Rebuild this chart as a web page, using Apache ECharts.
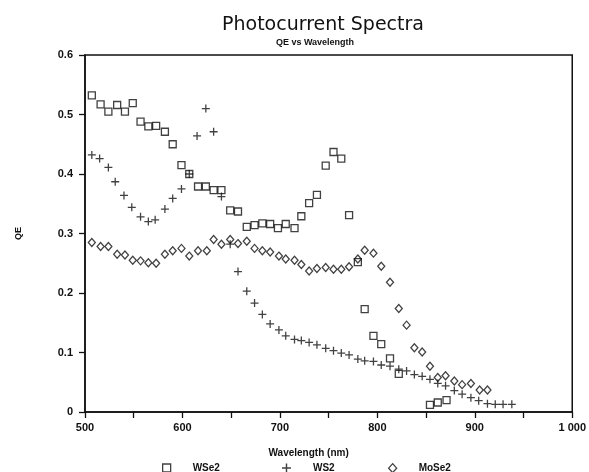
<!DOCTYPE html>
<html>
<head>
<meta charset="utf-8">
<script src="https://cdn.jsdelivr.net/npm/echarts@6/dist/echarts.min.js"></script>
<style>
  html, body { margin: 0; padding: 0; background: #fff; }
  #chart { width: 589px; height: 472px; }
</style>
</head>
<body>
<div id="chart"></div>
<script>
// Wavelength (nm) and quantum efficiency for each material
const wse2Nm = [507, 516, 524, 533, 541, 549, 557, 565, 573, 582, 590, 599, 607, 616, 624, 632, 640, 649, 657, 666, 674, 682, 690, 698, 706, 715, 722, 730, 738, 747, 755, 763, 771, 780, 787, 796, 804, 813, 822, 854, 862, 871];
const wse2Qe = [0.532, 0.517, 0.505, 0.516, 0.505, 0.519, 0.488, 0.480, 0.481, 0.471, 0.450, 0.415, 0.400, 0.379, 0.379, 0.373, 0.373, 0.339, 0.337, 0.311, 0.314, 0.317, 0.316, 0.309, 0.316, 0.309, 0.329, 0.351, 0.365, 0.414, 0.437, 0.426, 0.331, 0.252, 0.173, 0.128, 0.114, 0.090, 0.064, 0.012, 0.016, 0.020];

const ws2Nm = [507, 515, 524, 531, 540, 548, 557, 565, 572, 582, 590, 599, 607, 615, 624, 632, 640, 649, 657, 666, 674, 682, 690, 699, 706, 715, 722, 730, 738, 747, 755, 763, 771, 780, 787, 796, 804, 813, 822, 830, 838, 846, 854, 862, 870, 879, 887, 896, 904, 913, 921, 929, 938];
const ws2Qe = [0.432, 0.426, 0.411, 0.387, 0.364, 0.344, 0.328, 0.320, 0.323, 0.341, 0.359, 0.375, 0.400, 0.464, 0.510, 0.471, 0.362, 0.282, 0.236, 0.203, 0.183, 0.164, 0.148, 0.138, 0.128, 0.122, 0.120, 0.117, 0.113, 0.107, 0.103, 0.099, 0.096, 0.089, 0.086, 0.085, 0.079, 0.077, 0.072, 0.069, 0.063, 0.060, 0.055, 0.048, 0.044, 0.036, 0.030, 0.024, 0.019, 0.014, 0.013, 0.013, 0.013];

const mose2Nm = [507, 516, 524, 533, 541, 549, 557, 565, 573, 582, 590, 599, 607, 616, 625, 632, 640, 649, 657, 666, 674, 682, 690, 699, 706, 715, 722, 730, 738, 747, 755, 763, 771, 780, 787, 796, 804, 813, 822, 830, 838, 846, 854, 862, 870, 879, 887, 896, 905, 913];
const mose2Qe = [0.285, 0.278, 0.278, 0.265, 0.264, 0.255, 0.254, 0.251, 0.250, 0.265, 0.271, 0.275, 0.262, 0.271, 0.271, 0.290, 0.282, 0.290, 0.283, 0.287, 0.275, 0.271, 0.269, 0.262, 0.257, 0.255, 0.248, 0.237, 0.241, 0.243, 0.240, 0.240, 0.244, 0.257, 0.272, 0.267, 0.245, 0.218, 0.174, 0.146, 0.108, 0.101, 0.077, 0.058, 0.061, 0.052, 0.046, 0.048, 0.037, 0.037];

const seriesNames = ['WSe2', 'WS2', 'MoSe2'];

const pair = (xs, ys) => xs.map((x, i) => [x, ys[i]]);

const INK = '#111';
const labelFont = { fontFamily: 'Liberation Sans', fontWeight: 'bold', fontSize: 11, color: INK };

// Plus marker drawn as a filled cross
const plusPath = 'path://M4.2,0H5.8V4.2H10V5.8H5.8V10H4.2V5.8H0V4.2H4.2Z';

const hollow = { color: 'rgba(255,255,255,0)', borderColor: INK, borderWidth: 1.3 };

const legendText = Object.assign({}, labelFont, { fontSize: 10, padding: [0, 0, 0, 17] });

const chart = echarts.init(document.getElementById('chart'), null, { renderer: 'canvas' });

chart.setOption({
  animation: false,
  backgroundColor: '#fff',
  title: [
    {
      text: 'Photocurrent Spectra',
      left: 318, top: 11, textAlign: 'center',
      textStyle: { fontFamily: '"DejaVu Sans ExtraLight", "DejaVu Sans"', fontWeight: 'normal', fontSize: 19, color: '#111' }
    },
    {
      text: 'QE vs Wavelength',
      left: 310, top: 33, textAlign: 'center',
      textStyle: { fontFamily: 'Liberation Sans', fontWeight: 'bold', fontSize: 9, color: INK }
    }
  ],
  grid: { left: 85, right: 9, top: 55, bottom: 60, show: true, borderColor: INK, borderWidth: 1.5, backgroundColor: 'transparent' },
  legend: [
    { data: [seriesNames[0]], left: 157, top: 458, itemWidth: 8, itemHeight: 8, icon: 'rect',
      itemStyle: hollow, textStyle: legendText },
    { data: [seriesNames[1]], left: 277, top: 458, itemWidth: 9, itemHeight: 9,
      textStyle: legendText },
    { data: [seriesNames[2]], left: 383, top: 458, itemWidth: 8, itemHeight: 9, icon: 'diamond',
      itemStyle: hollow, textStyle: legendText }
  ],
  xAxis: {
    type: 'value', min: 500, max: 1000, interval: 50,
    name: 'Wavelength (nm)', nameLocation: 'middle', nameGap: 36,
    nameTextStyle: Object.assign({}, labelFont, { fontSize: 10, padding: [0, 40, 0, 0] }),
    axisLine: { show: true, onZero: false, lineStyle: { color: INK, width: 1.5 } },
    axisTick: { show: true, inside: false, length: 6, lineStyle: { color: INK, width: 1.3 } },
    axisLabel: Object.assign({}, labelFont, {
      margin: 10,
      formatter: v => (v % 100 === 0 ? (v === 1000 ? '1 000' : String(v)) : '')
    }),
    splitLine: { show: false }
  },
  yAxis: {
    type: 'value', min: 0, max: 0.6, interval: 0.1,
    name: 'QE', nameLocation: 'middle', nameGap: 62,
    nameTextStyle: Object.assign({}, labelFont, { fontSize: 9 }),
    axisLine: { show: true, lineStyle: { color: INK, width: 1.5 } },
    axisTick: { show: true, inside: false, length: 6, lineStyle: { color: INK, width: 1.3 } },
    axisLabel: Object.assign({}, labelFont, {
      margin: 12,
      formatter: v => (v === 0 ? '0' : v.toFixed(1))
    }),
    splitLine: { show: false }
  },
  series: [
    {
      name: seriesNames[0], type: 'scatter', symbol: 'rect', symbolSize: 7,
      itemStyle: hollow, data: pair(wse2Nm, wse2Qe)
    },
    {
      name: seriesNames[1], type: 'scatter', symbol: plusPath, symbolSize: 8,
      itemStyle: { color: INK }, data: pair(ws2Nm, ws2Qe)
    },
    {
      name: seriesNames[2], type: 'scatter', symbol: 'diamond', symbolSize: [7, 8],
      itemStyle: hollow, data: pair(mose2Nm, mose2Qe)
    }
  ]
});
</script>
</body>
</html>
